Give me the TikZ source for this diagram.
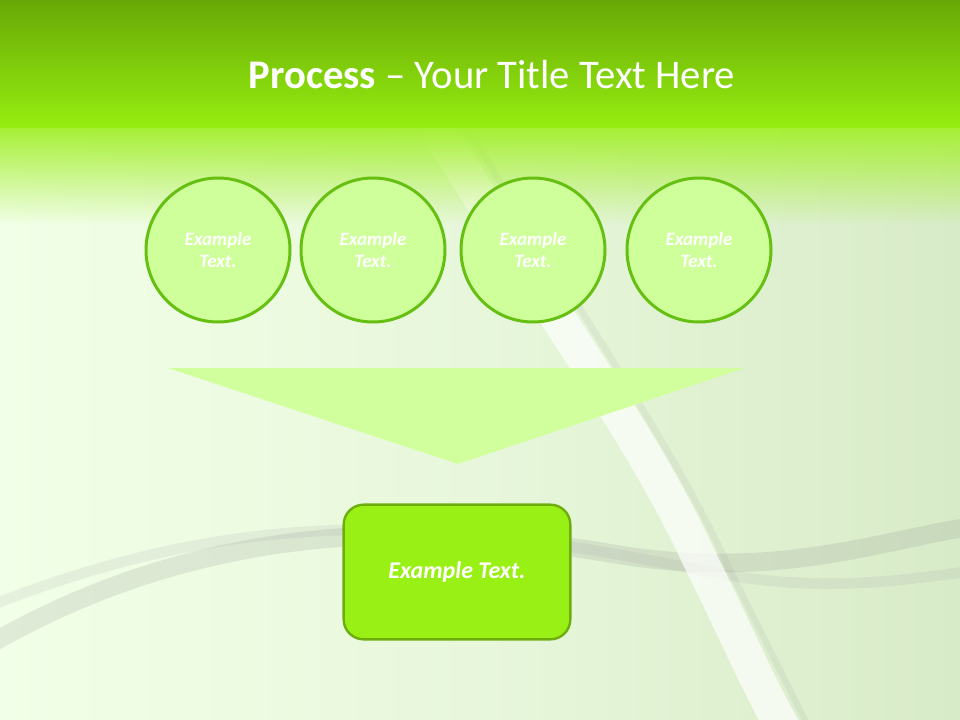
\documentclass[tikz,border=0pt]{standalone}
\usepackage{fontspec}
\setmainfont{Carlito}
\usetikzlibrary{fadings}
\definecolor{bandtop}{HTML}{68A806}
\definecolor{bandbot}{HTML}{96EE10}
\definecolor{paleleft}{HTML}{F2FFE8}
\definecolor{paleright}{HTML}{D8EBC8}
\definecolor{ringfill}{HTML}{CFFF9A}
\definecolor{ringline}{HTML}{66C012}
\definecolor{boxfill}{HTML}{99F014}
\definecolor{boxline}{HTML}{6DAE0E}
\definecolor{wedgefill}{HTML}{D2FF9E}
\tikzfading[name=bandfade, top color=transparent!0, bottom color=transparent!100]
\tikzset{
  stepcircle/.style={circle, draw=ringline, fill=ringfill, line width=2.25pt,
    minimum size=108pt, inner sep=0pt, align=center, text=white,
    font=\fontsize{14.2}{16.5}\selectfont\bfseries\itshape},
  resultbox/.style={rounded corners=15pt, draw=boxline, fill=boxfill, line width=1.8pt,
    minimum width=170pt, minimum height=101pt, text=white,
    font=\fontsize{18}{21}\selectfont\bfseries\itshape},
  swoosh/.style={line cap=round, opacity=0.16}
}
\begin{document}
\begin{tikzpicture}[x=0.75pt,y=-0.75pt]
  \useasboundingbox (0,0) rectangle (960,720);
  % background
  \shade[left color=paleleft, right color=paleright, middle color=paleleft!60!paleright] (0,0) rectangle (960,720);
  \begin{scope}
    \clip (0,128) rectangle (960,720);
    \draw[swoosh, gray, line width=14pt] (-20,650) .. controls (200,520) and (420,520) .. (620,555) .. controls (780,580) and (880,540) .. (980,525);
    \draw[swoosh, gray!70, line width=8pt] (-20,610) .. controls (250,500) and (450,520) .. (700,570) .. controls (820,595) and (900,580) .. (980,570);
    \draw[swoosh, white, line width=26pt, opacity=0.7] (420,100) .. controls (560,330) and (640,430) .. (700,560) .. controls (740,640) and (760,690) .. (790,740);
    \draw[swoosh, gray!80, line width=5pt, opacity=0.12] (450,100) .. controls (590,330) and (670,440) .. (730,570) .. controls (770,650) and (790,690) .. (815,740);
    \fill[bandbot!85!white, path fading=bandfade] (0,127) rectangle (960,225);
  \end{scope}
  \shade[top color=bandtop, bottom color=bandbot] (0,0) rectangle (960,128);
  % title
  \node[text=white, font=\fontsize{30.5}{36}\selectfont] (title) at (492,75)
    {\textbf{Process} -- Your Title Text Here};
  % circles
  \node[stepcircle] (c1) at (218,250) {Example\\Text.};
  \node[stepcircle] (c2) at (373,250) {Example\\Text.};
  \node[stepcircle] (c3) at (533,250) {Example\\Text.};
  \node[stepcircle] (c4) at (699,250) {Example\\Text.};
  % funnel
  \fill[wedgefill] (168,368) -- (745,368) -- (458,464) -- cycle;
  % result
  \node[resultbox] (res) at (457,572) {Example Text.};
\end{tikzpicture}
\end{document}
